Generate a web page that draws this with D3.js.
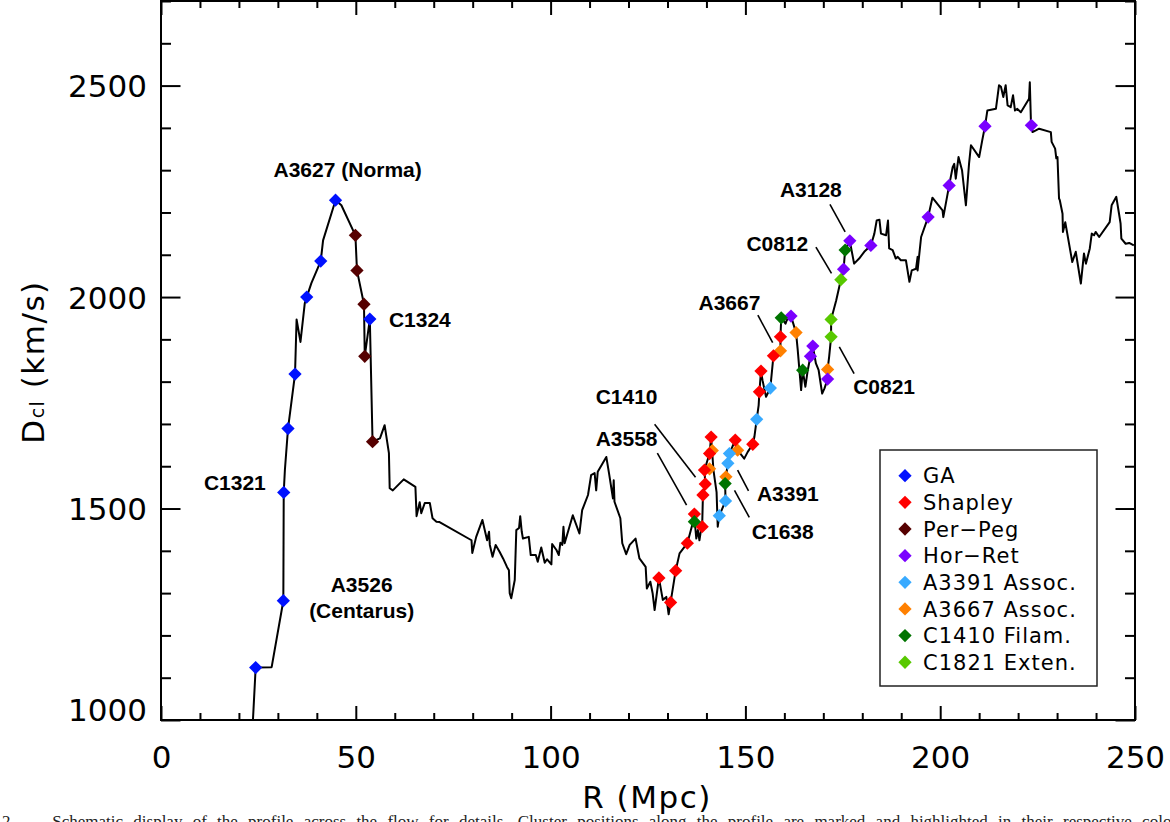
<!DOCTYPE html>
<html>
<head>
<meta charset="utf-8">
<script src="https://d3js.org/d3.v7.min.js"></script>
<style>
  body { margin: 0; background: #fff; }
  .tick text { font-family: "DejaVu Sans", sans-serif; font-size: 31px; fill: #000; }
  .axisText { font-family: "DejaVu Sans", sans-serif; font-size: 31px; letter-spacing: 1.5px; }
  .note { font-family: "Liberation Sans", Arial, sans-serif; font-weight: bold; font-size: 21px; }
  .legendText { font-family: "DejaVu Sans", sans-serif; font-size: 21px; letter-spacing: 1px; }
</style>
</head>
<body>
<div class="chart"></div>
<script>
// profile along R (Mpc) -> D_cl (km/s)
var profileR = [23.6,24.3,28.4,31.4,31.5,31.8,32.6,34.4,34.8,35.8,
  36.9,37.4,38.6,41.0,41.6,44.8,46.3,49.9,50.3,52.1,
  52.3,53.6,54.3,56.2,57.4,58.5,58.7,59.5,62.3,65.3,
  65.6,66.4,66.8,67.7,69.0,69.7,70.7,71.5,79.7,79.9,
  80.9,82.5,83.7,84.2,84.4,85.1,85.9,86.9,87.8,88.8,
  89.3,89.5,89.9,90.8,91.2,91.9,92.2,92.6,92.9,94.4,
  94.9,96.2,96.7,97.6,98.5,99.1,100.2,100.4,101.5,102.1,
  102.5,103.0,103.3,103.6,105.7,107.4,108.1,109.6,110.4,111.3,
  111.7,112.1,114.3,115.0,116.0,116.2,116.4,117.9,118.4,119.4,
  120.3,121.8,122.8,124.4,124.7,125.6,126.2,126.7,127.8,128.8,
  129.7,130.3,130.8,132.1,133.1,135.1,136.9,137.4,137.8,138.2,
  138.6,138.9,139.1,139.7,139.5,140.8,141.2,141.8,142.6,142.9,
  143.3,144.9,144.8,145.0,145.5,145.9,147.4,148.0,149.7,150.6,
  151.9,152.3,152.9,153.4,153.6,154.0,154.4,155.3,156.4,157.2,
  159.0,159.0,159.2,160.3,160.6,161.7,163.0,163.4,164.3,164.7,
  165.4,166.0,166.7,167.3,168.1,168.8,169.7,170.3,171.1,171.1,
  171.5,172.0,172.0,173.3,174.5,175.2,175.6,176.8,177.1,177.9,
  179.2,180.5,182.2,183.1,183.7,184.4,184.8,186.1,186.6,186.9,
  187.8,188.6,189.1,189.9,191.2,192.1,192.7,193.8,194.2,194.2,
  195.1,196.9,198.0,200.6,200.8,202.3,203.2,203.6,204.0,204.7,
  205.6,206.6,207.4,207.9,210.0,210.8,211.5,212.1,214.3,214.7,
  215.1,215.6,216.2,216.8,217.3,218.1,218.7,219.2,219.8,220.7,
  222.8,223.0,223.3,223.4,223.7,225.4,228.4,228.6,229.5,229.8,
  230.1,230.5,230.7,231.4,231.5,232.1,233.9,234.8,236.1,236.9,
  237.4,238.4,238.9,239.5,239.9,240.8,243.5,244.0,245.2,245.9,
  246.3,246.5,247.6,248.5,249.7];
var profileD = [1000,1124,1125,1282,1538,1591,1689,1818,1947,1894,
  1985,2000,2033,2085,2134,2229,2217,2146,2063,1983,
  1860,1948,1658,1666,1697,1631,1548,1543,1569,1551,
  1482,1515,1489,1513,1513,1477,1469,1468,1425,1395,
  1433,1473,1425,1445,1414,1386,1414,1398,1382,1362,
  1354,1300,1288,1331,1449,1454,1482,1445,1429,1433,
  1390,1390,1374,1408,1372,1380,1368,1416,1402,1390,
  1419,1414,1457,1418,1484,1441,1496,1532,1579,1584,
  1543,1587,1622,1583,1524,1567,1516,1477,1418,1392,
  1414,1429,1382,1362,1311,1327,1299,1260,1336,1284,
  1291,1250,1278,1353,1394,1418,1480,1429,1449,1425,
  1449,1457,1532,1558,1591,1630,1669,1591,1539,1457,
  1483,1518,1559,1575,1607,1630,1662,1638,1618,1634,
  1652,1669,1711,1744,1776,1825,1803,1764,1785,1861,
  1873,1906,1951,1937,1945,1955,1916,1878,1780,1827,
  1788,1827,1860,1884,1843,1827,1772,1784,1806,1829,
  1859,1906,1947,1992,2041,2066,2111,2133,2118,2079,
  2091,2107,2122,2150,2181,2183,2150,2146,2181,2115,
  2111,2091,2095,2087,2087,2036,2063,2067,2095,2063,
  2142,2189,2235,2205,2189,2264,2307,2315,2280,2331,
  2300,2217,2315,2359,2331,2371,2404,2441,2445,2473,
  2501,2497,2473,2501,2453,2449,2477,2441,2445,2437,
  2469,2508,2410,2406,2390,2398,2390,2367,2351,2328,
  2331,2233,2229,2197,2154,2177,2083,2107,2032,2103,
  2079,2115,2150,2146,2154,2142,2177,2217,2237,2197,
  2174,2138,2126,2128,2122];

// cluster markers per group
var gaR = [24.3,31.4,31.5,32.6,34.4,37.4,41.0,44.8,53.6];
var gaD = [1124,1282,1538,1689,1818,2000,2085,2229,1948];
var shapleyR = [127.8,130.8,132.1,135.1,136.9,138.9,139.1,139.7,139.5,140.8,141.2,147.4,151.9,153.6,154.0,157.2,159.0];
var shapleyD = [1336,1278,1353,1418,1487,1457,1532,1558,1591,1630,1669,1662,1652,1776,1825,1861,1906];
var perPegR = [49.9,50.3,52.1,52.3,54.3];
var perPegD = [2146,2063,1983,1860,1658];
var horRetR = [161.7,166.7,167.3,171.1,175.2,176.8,182.2,196.9,202.3,211.5,223.4];
var horRetD = [1955,1860,1884,1806,2066,2133,2122,2189,2264,2404,2406];
var a3391R = [143.3,144.9,145.5,145.9,152.9,156.4];
var a3391D = [1483,1518,1607,1630,1711,1785];
var a3667R = [141.5,140.8,145.0,148.0,159.0,163.0,171.1];
var a3667D = [1637,1594,1575,1638,1873,1916,1829];
var c1410R = [136.9,144.8,159.2,164.7,175.6];
var c1410D = [1469,1559,1951,1827,2111];
var c1821R = [172.0,172.0,174.5];
var c1821D = [1906,1947,2041];

var groupNames = ["GA", "Shapley", "Per\u2212Peg", "Hor\u2212Ret", "A3391 Assoc.", "A3667 Assoc.", "C1410 Filam.", "C1821 Exten."];
var groupR = [gaR, shapleyR, perPegR, horRetR, a3391R, a3667R, c1410R, c1821R];
var groupD = [gaD, shapleyD, perPegD, horRetD, a3391D, a3667D, c1410D, c1821D];
var groupColors = ["#0011ff", "#ff0000", "#560000", "#7a00ff", "#38aaff", "#ff8000", "#007400", "#58c800"];
var drawOrder = [0, 2, 5, 1, 3, 4, 6, 7];

// labels: text, R, D of baseline anchor
var noteText = ["A3627 (Norma)", "C1324", "C1321", "A3526", "(Centarus)", "C1410", "A3558", "A3391", "C1638", "A3667", "C0812", "A3128", "C0821"];
var noteR = [47.9, 58.5, 26.9, 51.5, 51.5, 119.5, 119.5, 160.9, 159.6, 145.9, 158.2, 166.8, 185.6];
var noteD = [2285, 1929, 1543, 1302, 1241, 1747, 1647, 1517, 1428, 1969, 2108, 2236, 1770];
// leader lines R0,D0 -> R1,D1
var leadR0 = [126.7, 127.4, 148.0, 147.2, 153.2, 168.1, 171.7, 174.1];
var leadD0 = [1699, 1631, 1591, 1543, 1957, 2118, 2219, 1882];
var leadR1 = [137.2, 134.9, 150.8, 151.0, 157.0, 172.1, 175.6, 177.9];
var leadD1 = [1574, 1508, 1542, 1479, 1892, 2056, 2154, 1819];

var xMajor = [0, 50, 100, 150, 200, 250];
var yMajor = [1000, 1500, 2000, 2500];

var svgWidth = 1170;
var svgHeight = 822;
var margin = {top: 1, right: 35, bottom: 102, left: 161};
var width = svgWidth - margin.left - margin.right;
var height = svgHeight - margin.top - margin.bottom;

var svg = d3.select(".chart")
  .append("svg")
  .attr("width", svgWidth)
  .attr("height", svgHeight)
  .style("display", "block");

var chartGroup = svg.append("g")
  .attr("transform", `translate(${margin.left}, ${margin.top})`);

var xScale = d3.scaleLinear().domain([0, 250]).range([0, width]);
var yScale = d3.scaleLinear().domain([1000, 2700]).range([height, 0]);

var xMinor = d3.range(0, 251, 10).filter(v => xMajor.indexOf(v) < 0);
var yMinor = d3.range(1000, 2701, 100).filter(v => yMajor.indexOf(v) < 0);

function styleAxis(g) {
  g.select(".domain").remove();
  g.selectAll(".tick line").attr("stroke", "#000").attr("stroke-width", 2);
}

// bottom axis
chartGroup.append("g")
  .attr("transform", `translate(0, ${height})`)
  .call(d3.axisBottom(xScale).tickValues(xMajor).tickSize(-14).tickPadding(26).tickFormat(d3.format("d")))
  .call(styleAxis);
chartGroup.append("g")
  .attr("transform", `translate(0, ${height})`)
  .call(d3.axisBottom(xScale).tickValues(xMinor).tickSize(-7).tickFormat(""))
  .call(styleAxis);
// top axis
chartGroup.append("g")
  .call(d3.axisTop(xScale).tickValues(xMajor).tickSize(-14).tickFormat(""))
  .call(styleAxis);
chartGroup.append("g")
  .call(d3.axisTop(xScale).tickValues(xMinor).tickSize(-7).tickFormat(""))
  .call(styleAxis);
// left axis
var leftAxis = chartGroup.append("g")
  .call(d3.axisLeft(yScale).tickValues(yMajor).tickSize(-19.5).tickPadding(14).tickFormat(d3.format("d")))
  .call(styleAxis);
leftAxis.selectAll(".tick text").attr("dy", d => d === 1000 ? "0" : "0.36em");
chartGroup.append("g")
  .call(d3.axisLeft(yScale).tickValues(yMinor).tickSize(-10).tickFormat(""))
  .call(styleAxis);
// right axis
chartGroup.append("g")
  .attr("transform", `translate(${width}, 0)`)
  .call(d3.axisRight(yScale).tickValues(yMajor).tickSize(-19.5).tickFormat(""))
  .call(styleAxis);
chartGroup.append("g")
  .attr("transform", `translate(${width}, 0)`)
  .call(d3.axisRight(yScale).tickValues(yMinor).tickSize(-10).tickFormat(""))
  .call(styleAxis);

// frame
chartGroup.append("rect")
  .attr("x", 0).attr("y", 0)
  .attr("width", width).attr("height", height)
  .attr("fill", "none").attr("stroke", "#000").attr("stroke-width", 2);

// profile line
var line = d3.line()
  .x(i => xScale(profileR[i]))
  .y(i => yScale(profileD[i]));
chartGroup.append("path")
  .attr("d", line(d3.range(profileR.length)))
  .attr("fill", "none")
  .attr("stroke", "#000")
  .attr("stroke-width", 2)
  .attr("stroke-linejoin", "round");

// markers
var diamond = d3.symbol().type(d3.symbolSquare).size(88);
drawOrder.forEach(function(g) {
  chartGroup.append("g").selectAll("path")
    .data(d3.range(groupR[g].length))
    .enter()
    .append("path")
    .attr("d", diamond)
    .attr("transform", i => `translate(${xScale(groupR[g][i])}, ${yScale(groupD[g][i])}) rotate(45)`)
    .attr("fill", groupColors[g]);
});

// leader lines
chartGroup.selectAll(".leader")
  .data(d3.range(leadR0.length))
  .enter()
  .append("line")
  .attr("class", "leader")
  .attr("x1", i => xScale(leadR0[i]))
  .attr("y1", i => yScale(leadD0[i]))
  .attr("x2", i => xScale(leadR1[i]))
  .attr("y2", i => yScale(leadD1[i]))
  .attr("stroke", "#000")
  .attr("stroke-width", 1.6);

// cluster labels
chartGroup.selectAll(".note")
  .data(d3.range(noteText.length))
  .enter()
  .append("text")
  .attr("class", "note")
  .attr("x", i => xScale(noteR[i]))
  .attr("y", i => yScale(noteD[i]))
  .attr("text-anchor", i => i === 1 ? "start" : (i === 2 ? "end" : "middle"))
  .text(i => noteText[i]);

// legend
var legend = svg.append("g").attr("transform", "translate(880, 450)");
legend.append("rect")
  .attr("width", 217).attr("height", 236)
  .attr("fill", "#fff").attr("stroke", "#222").attr("stroke-width", 1.5);
var rows = legend.selectAll(".row")
  .data(d3.range(groupNames.length))
  .enter()
  .append("g")
  .attr("class", "row")
  .attr("transform", i => `translate(0, ${25.7 + i * 26.65})`);
rows.append("path")
  .attr("d", diamond)
  .attr("transform", "translate(25, 0) rotate(45)")
  .attr("fill", i => groupColors[i]);
rows.append("text")
  .attr("class", "legendText")
  .attr("x", 43)
  .attr("dy", "0.36em")
  .text(i => groupNames[i]);

// axis titles
svg.append("text")
  .attr("class", "axisText")
  .attr("x", 647).attr("y", 808)
  .attr("text-anchor", "middle")
  .text("R (Mpc)");

var yTitle = svg.append("text")
  .attr("class", "axisText")
  .attr("transform", "translate(44, 362) rotate(-90)")
  .attr("text-anchor", "middle");
yTitle.append("tspan").text("D");
yTitle.append("tspan").style("font-size", "19px").text("cl");
yTitle.append("tspan").text(" (km/s)");

// clipped caption below the figure
svg.append("text")
  .attr("x", 2).attr("y", 827)
  .style("font-family", "'Liberation Serif', serif")
  .style("font-size", "17px")
  .style("word-spacing", "6px")
  .attr("fill", "#222")
  .text("2. \u2014 Schematic display of the profile across the flow for details. Cluster positions along the profile are marked and highlighted in their respective colours.");
</script>
</body>
</html>
